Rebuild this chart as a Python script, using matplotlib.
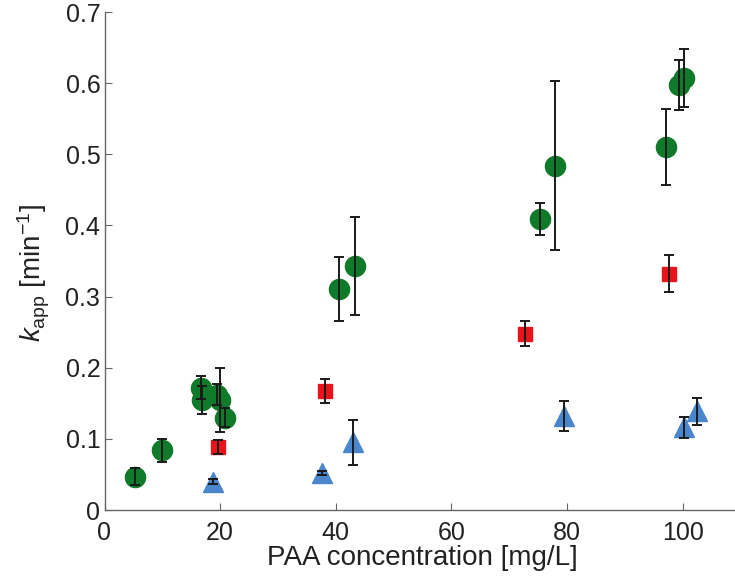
# -*- coding: utf-8 -*-
import matplotlib
matplotlib.use("Agg")
import matplotlib.pyplot as plt

# green circles
g_x = [5.3, 9.9, 16.7, 16.8, 19.5, 20.0, 20.9, 40.5, 43.3, 75.3, 77.9, 97.2, 99.4, 100.2]
g_y = [0.047, 0.084, 0.172, 0.155, 0.162, 0.155, 0.130, 0.311, 0.343, 0.409, 0.484, 0.510, 0.597, 0.607]
g_e = [0.012, 0.016, 0.016, 0.020, 0.015, 0.045, 0.014, 0.045, 0.069, 0.023, 0.119, 0.053, 0.035, 0.041]

# red squares
r_x = [19.6, 38.2, 72.7, 97.6]
r_y = [0.089, 0.167, 0.248, 0.332]
r_e = [0.010, 0.017, 0.018, 0.026]

# blue triangles
b_x = [18.8, 37.7, 43.0, 79.5, 100.3, 102.4]
b_y = [0.040, 0.052, 0.095, 0.132, 0.116, 0.139]
b_e = [0.004, 0.003, 0.032, 0.021, 0.0145, 0.019]

plt.rcParams['font.family'] = ['Liberation Sans', 'DejaVu Sans']
plt.rcParams['mathtext.fontset'] = 'custom'
plt.rcParams['mathtext.rm'] = 'Liberation Sans'
plt.rcParams['mathtext.it'] = 'Liberation Sans:italic'

fig = plt.figure(figsize=(7.35, 5.79), dpi=100)
ax = fig.add_axes([104.5/735, 69/579, 636/735, 498/579])

def draw(x, y, e, mk, col, ms):
	ax.plot(x, y, linestyle='none', marker=mk, color=col, markersize=ms,
		markeredgecolor=col, zorder=2)
	ax.errorbar(x, y, yerr=e, fmt='none', ecolor='#1a1a1a', elinewidth=1.4,
		capsize=3.8, capthick=1.4, zorder=3)

draw(g_x, g_y, g_e, 'o', '#0f7a2a', 14.5)
draw(r_x, r_y, r_e, 's', '#e8141b', 10.5)
draw(b_x, b_y, b_e, '^', '#4a86cc', 15)

ax.set_xlim(0, 110)
ax.set_ylim(0, 0.7)
ax.set_xticks([0, 20, 40, 60, 80, 100])
ax.set_yticks([0, 0.1, 0.2, 0.3, 0.4, 0.5, 0.6, 0.7])
ax.set_yticklabels(['0', '0.1', '0.2', '0.3', '0.4', '0.5', '0.6', '0.7'])
ax.tick_params(direction='in', length=5, width=0.8, labelsize=18, colors='#666666',
	labelcolor='#222222')
ax.tick_params(axis='y', pad=3)
ax.tick_params(axis='x', pad=8)
for s in ['top', 'right']:
	ax.spines[s].set_visible(False)
for s in ['left', 'bottom']:
	ax.spines[s].set_color('#666666')
	ax.spines[s].set_linewidth(1.0)

ax.set_xlabel('PAA concentration [mg/L]', fontsize=20, color='#222222', labelpad=0)
ax.set_ylabel(r'$k_{\mathrm{app}}$ [min$^{-1}$]', fontsize=20, color='#222222',
	labelpad=10, y=0.475)

fig.savefig('out.png', dpi=100)
